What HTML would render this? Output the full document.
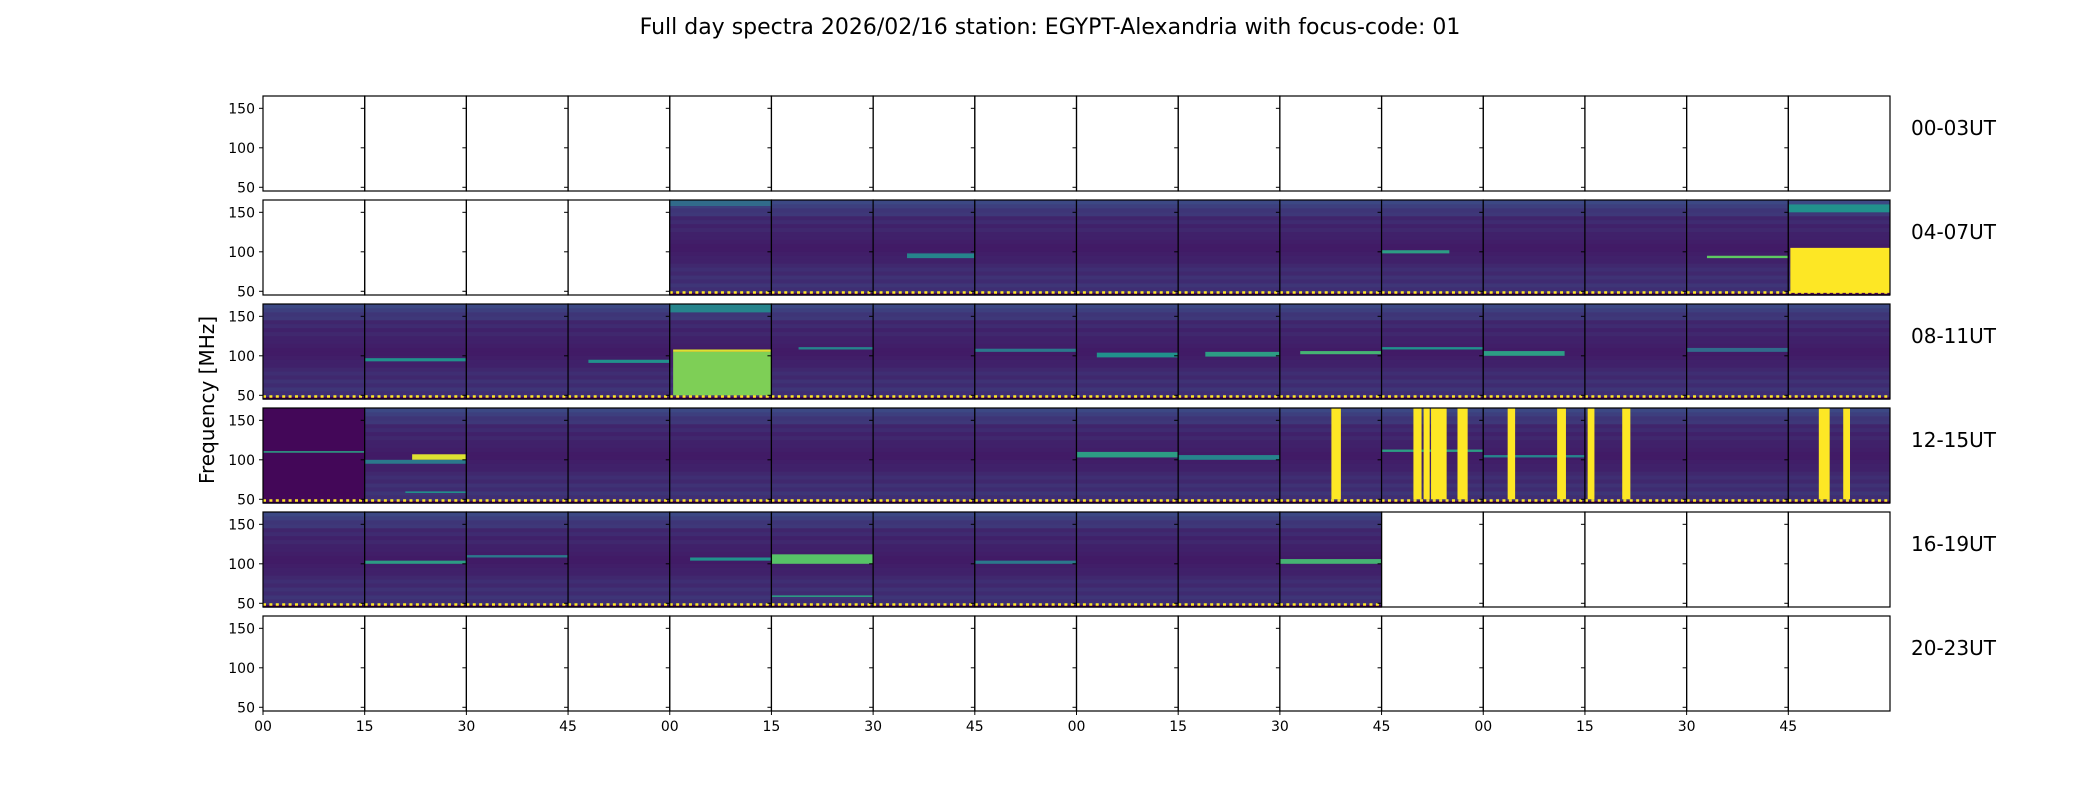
<!DOCTYPE html>
<html><head><meta charset="utf-8"><style>
html,body{margin:0;padding:0;background:#fff;}
svg{display:block;font-family:"DejaVu Sans","Liberation Sans",sans-serif;}
</style></head><body>
<svg id="chart" width="2100" height="800" viewBox="0 0 2100 800" xmlns="http://www.w3.org/2000/svg">
<text x="1050" y="34" text-anchor="middle" font-size="22">Full day spectra 2026/02/16 station: EGYPT-Alexandria with focus-code: 01</text>
<text transform="translate(214,400) rotate(-90)" text-anchor="middle" font-size="20">Frequency [MHz]</text>
<g id="panels"></g>
</svg>
<script>
const rowLabels=['00-03UT','04-07UT','08-11UT','12-15UT','16-19UT','20-23UT'];
const xTickLabels=['00','15','30','45','00','15','30','45','00','15','30','45','00','15','30','45'];
const yTickValues=[50,100,150];
const hasData=['0000000000000000','0000111111111111','1111111111111111','1111111111111111','1111111111100000','0000000000000000'];
const bandFreq=[165,160,155,150,145,140,135,130,125,120,115,110,105,100,95,90,85,80,75,70,65,60,55,50];
const bandLevel=[0.22,0.19,0.16,0.17,0.11,0.13,0.1,0.12,0.1,0.1,0.09,0.08,0.08,0.09,0.1,0.1,0.12,0.14,0.12,0.15,0.13,0.16,0.14,0.17];
// [row, col, fLo, fHi, tStart, tEnd, level]
const features=[
[1,15,46,105,0.3,15,1.0],[1,15,150,160,0,15,0.5],[1,14,92,95,3,15,0.75],[1,11,98,102,0,10,0.55],[1,6,92,98,5,15,0.45],[1,4,158,165,0,15,0.35],
[2,4,50,105,0.5,15,0.8],[2,4,105,108,0.5,15,0.95],[2,4,155,165,0,15,0.45],[2,1,93,97,0,15,0.5],[2,3,91,95,3,15,0.5],[2,5,108,111,4,15,0.45],
[2,7,105,109,0,15,0.4],[2,8,98,104,3,15,0.5],[2,9,99,105,4,15,0.55],[2,10,102,106,3,15,0.65],[2,11,108,111,0,15,0.5],[2,12,100,106,0,12,0.55],[2,14,105,110,0,15,0.35],
[3,0,45,166,0,15,0.02],[3,0,109,111,0,15,0.55],[3,1,100,107,7,15,0.95],[3,1,95,100,0,15,0.4],[3,1,58,60,6,15,0.5],[3,8,103,110,0,15,0.55],[3,9,100,106,0,15,0.45],[3,11,110,113,0,15,0.55],[3,12,103,106,0,15,0.45],
[4,1,100,104,0,15,0.55],[4,2,108,111,0,15,0.4],[4,4,104,108,3,15,0.5],[4,5,100,112,0,15,0.72],[4,5,58,60,0,15,0.55],[4,7,100,104,0,15,0.4],[4,10,100,106,0,15,0.65]
];
// [row, col, tStart, tEnd]
const bursts=[[3,10,7.6,9.0],[3,11,4.7,5.9],[3,11,6.2,7.1],[3,11,7.3,9.6],[3,11,11.2,12.7],[3,12,3.6,4.7],[3,12,10.9,12.2],[3,13,0.4,1.4],[3,13,5.5,6.7],[3,15,4.5,6.1],[3,15,8.1,9.1]];

const L=263,R=1890,NC=16,colW=(R-L)/NC,T0=96,pitch=104,H=95,fTop=165.6,fBot=45.3;
const xOf=(c,t)=>L+c*colW+t/15*colW;
const yOf=(r,f)=>T0+r*pitch+(fTop-f)/(fTop-fBot)*H;
const stops=[[0,[68,1,84]],[0.25,[59,82,139]],[0.5,[33,145,140]],[0.75,[94,201,98]],[1,[253,231,37]]];
function vir(v){v=Math.max(0,Math.min(1,v));for(let i=1;i<stops.length;i++){if(v<=stops[i][0]){const a=stops[i-1],b=stops[i],k=(v-a[0])/(b[0]-a[0]);return 'rgb('+a[1].map((x,j)=>Math.round(x+(b[1][j]-x)*k)).join(',')+')';}}return 'rgb(253,231,37)';}
const NS='http://www.w3.org/2000/svg';
const g=document.getElementById('panels');
function mk(tag,attrs,parent){const e=document.createElementNS(NS,tag);for(const k in attrs)e.setAttribute(k,attrs[k]);(parent||g).appendChild(e);return e;}

for(let r=0;r<6;r++){
  for(let c=0;c<NC;c++){
    const x0=L+c*colW,y0=T0+r*pitch;
    const p=mk('g',{});
    
    
    if(hasData[r][c]==='1'){
      for(let i=0;i<bandFreq.length;i++){
        const y1=yOf(r,bandFreq[i]),y2=yOf(r,bandFreq[i]-5);
        const cell=mk('rect',{x:x0,y:y1,width:colW,height:y2-y1+0.5,fill:vir(bandLevel[i])},p);
        
        
      }
      features.filter(f=>f[0]===r&&f[1]===c).forEach(f=>{
        const el=mk('rect',{x:xOf(c,f[4]),y:yOf(r,f[3]),width:xOf(c,f[5])-xOf(c,f[4]),height:yOf(r,f[2])-yOf(r,f[3]),fill:vir(f[6])},p);
        
        
      });
      bursts.filter(b=>b[0]===r&&b[1]===c).forEach(b=>{
        const el=mk('rect',{x:xOf(c,b[2]),y:yOf(r,165.6),width:xOf(c,b[3])-xOf(c,b[2]),height:yOf(r,50)-yOf(r,165.6),fill:'#fde725'},p);
        
        
      });
      mk('rect',{x:x0,y:yOf(r,48),width:colW,height:yOf(r,45.3)-yOf(r,48),fill:'#440154'},p);
      mk('line',{x1:x0,x2:x0+colW,y1:y0+H-2.5,y2:y0+H-2.5,stroke:'#fde725','stroke-width':2.5,'stroke-dasharray':'3 3.4'},p);
    }
    mk('rect',{x:x0,y:y0,width:colW,height:H,fill:'none',stroke:'#000','stroke-width':1.2},p);
    yTickValues.forEach(v=>{const y=yOf(r,v);mk('line',{x1:x0-4,x2:x0,y1:y,y2:y,stroke:'#000','stroke-width':1},p);});
  }
  yTickValues.forEach(v=>{
    const t=mk('text',{x:L-8,y:yOf(r,v)+5,'text-anchor':'end','font-size':14});
    
    
    t.textContent=v;
  });
  const lab=mk('text',{x:1911,y:T0+r*pitch+39,'font-size':20});
  
  
  lab.textContent=rowLabels[r];
}
const yb=T0+5*pitch+H;
xTickLabels.forEach((s,c)=>{
  const x=L+c*colW;
  mk('line',{x1:x,x2:x,y1:yb,y2:yb+4,stroke:'#000','stroke-width':1});
  const t=mk('text',{x:x,y:yb+20,'text-anchor':'middle','font-size':14});
  
  
  t.textContent=s;
});
</script>
</body></html>
